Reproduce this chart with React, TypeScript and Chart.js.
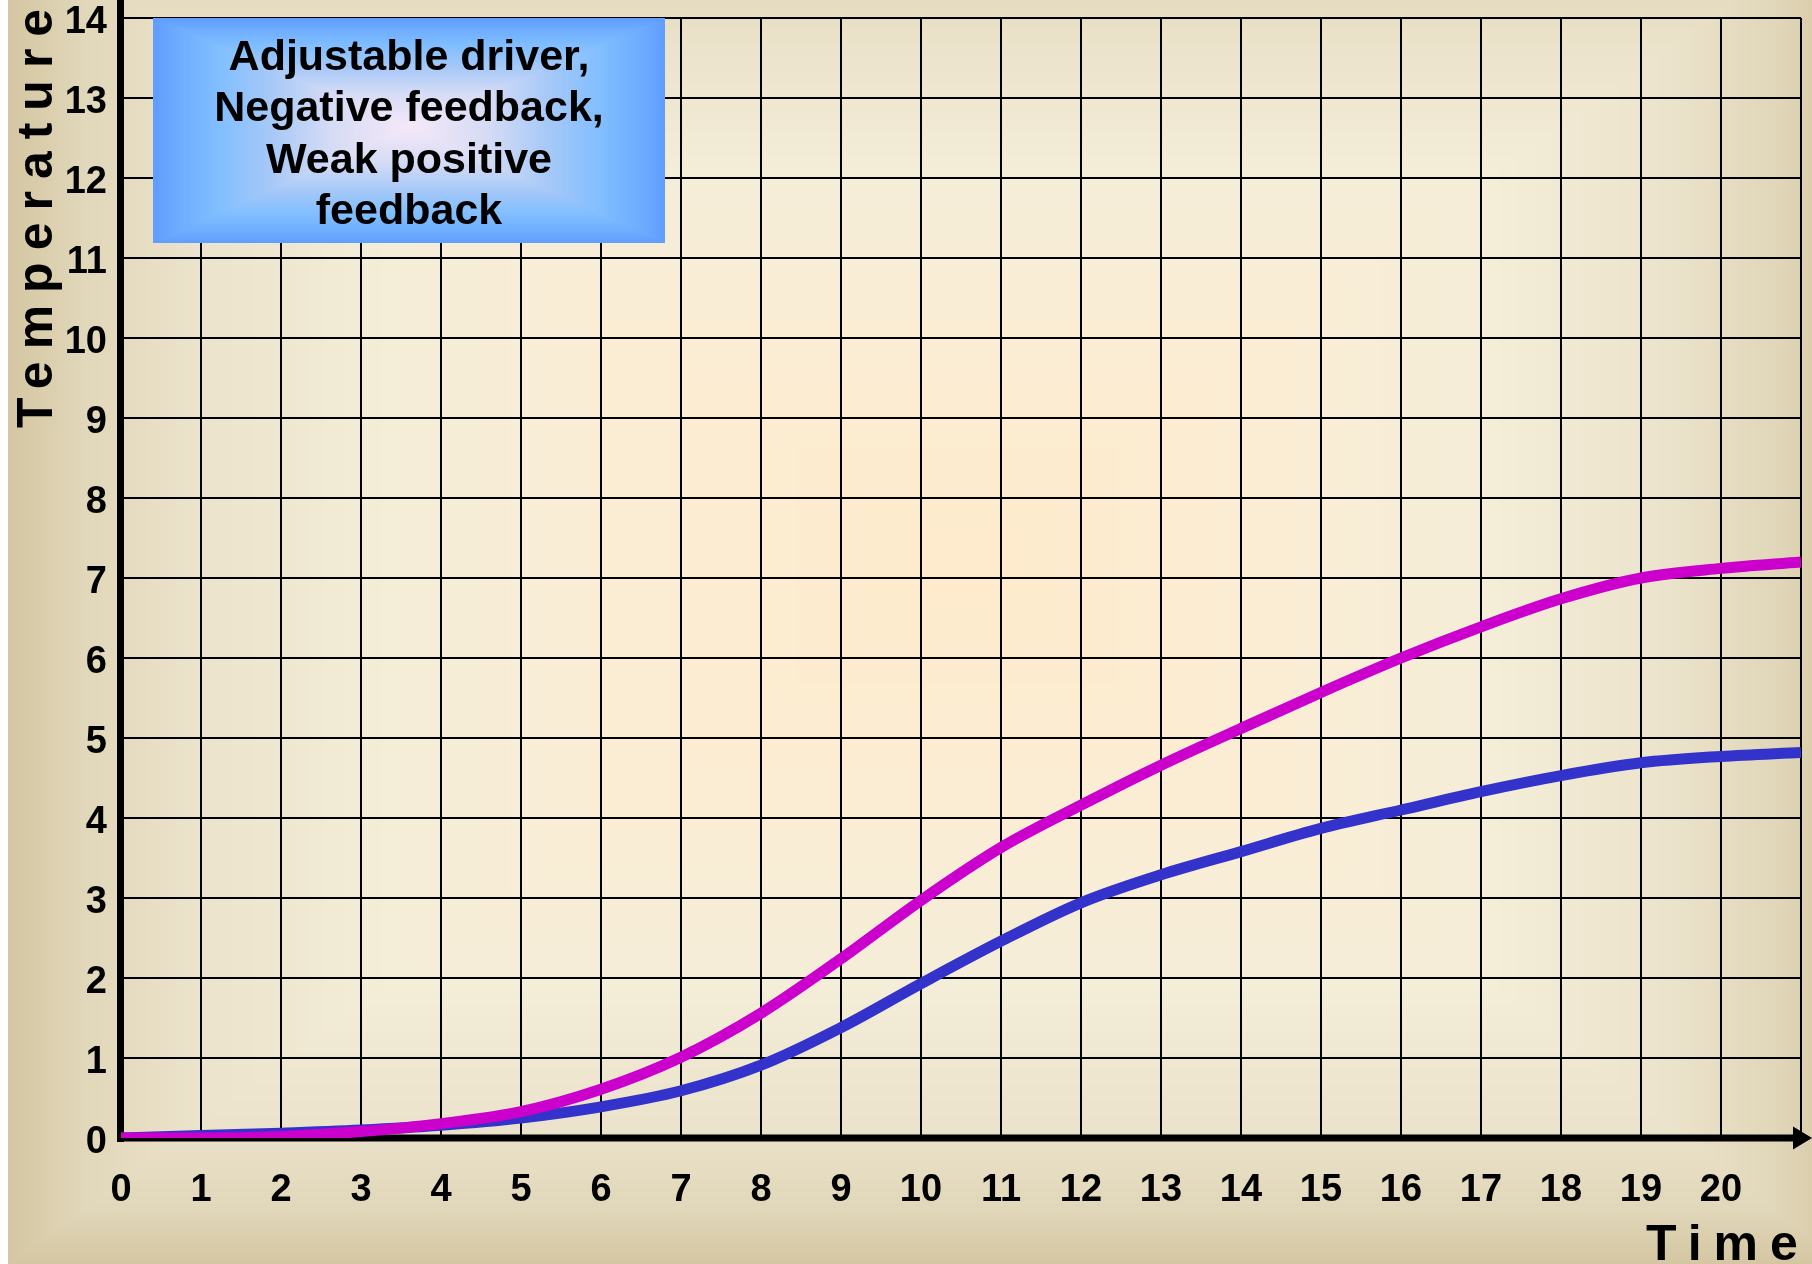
import { useEffect, useRef } from 'react';
import { Chart, registerables } from 'chart.js';

Chart.register(...registerables);

// ---- data ----
const timeSteps = [0, 1, 2, 3, 4, 5, 6, 7, 8, 9, 10, 11, 12, 13, 14, 15, 16, 17, 18, 19, 20, 21];
const xTickLabels = ['0', '1', '2', '3', '4', '5', '6', '7', '8', '9', '10', '11', '12', '13', '14', '15', '16', '17', '18', '19', '20'];
const yTickLabels = ['0', '1', '2', '3', '4', '5', '6', '7', '8', '9', '10', '11', '12', '13', '14'];
const magentaSeries = [0, 0.0, 0.02, 0.08, 0.18, 0.33, 0.61, 1.01, 1.56, 2.24, 2.97, 3.63, 4.16, 4.66, 5.12, 5.57, 6.0, 6.39, 6.74, 7.0, 7.12, 7.2];
const blueSeries = [0, 0.03, 0.06, 0.1, 0.16, 0.25, 0.39, 0.59, 0.91, 1.38, 1.93, 2.46, 2.94, 3.29, 3.58, 3.87, 4.1, 4.33, 4.53, 4.69, 4.77, 4.82];
const boxLines = ['Adjustable driver,', 'Negative feedback,', 'Weak positive', 'feedback'];
const xAxisTitle = 'Time';
const yAxisTitle = 'Temperature';

// ---- style ----
const FONT = '"Liberation Sans", Arial, sans-serif';
const bgStops: [number, number[]][] = [
  [0, [254, 234, 204]],
  [0.35, [251, 237, 212]],
  [0.6, [244, 237, 216]],
  [0.8, [235, 227, 203]],
  [0.92, [225, 215, 186]],
  [1, [212, 198, 161]],
];
const boxStops: [number, number[]][] = [
  [0, [246, 232, 248]],
  [0.3, [214, 220, 245]],
  [0.55, [165, 200, 248]],
  [0.75, [128, 190, 255]],
  [0.9, [110, 172, 255]],
  [1, [95, 157, 255]],
];

function colorAt(t: number, stops: [number, number[]][]) {
  for (let i = 1; i < stops.length; i++) {
    if (t <= stops[i][0]) {
      const [t0, c0] = stops[i - 1];
      const [t1, c1] = stops[i];
      const f = (t - t0) / (t1 - t0);
      return [c0[0] + (c1[0] - c0[0]) * f, c0[1] + (c1[1] - c0[1]) * f, c0[2] + (c1[2] - c0[2]) * f];
    }
  }
  return stops[stops.length - 1][1];
}

function rectGradient(w: number, h: number, cx: number, cy: number, axL: number, axR: number, ayT: number, ayB: number, stops: [number, number[]][]) {
  const c = document.createElement('canvas');
  c.width = Math.max(1, Math.round(w));
  c.height = Math.max(1, Math.round(h));
  const g = c.getContext('2d')!;
  const img = g.createImageData(c.width, c.height);
  for (let y = 0; y < c.height; y++) {
    const dy = y - cy;
    const ty = dy < 0 ? -dy / ayT : dy / ayB;
    for (let x = 0; x < c.width; x++) {
      const dx = x - cx;
      const tx = dx < 0 ? -dx / axL : dx / axR;
      const t = Math.min(1, Math.max(tx, ty));
      const col = colorAt(t, stops);
      const k = (y * c.width + x) * 4;
      img.data[k] = col[0];
      img.data[k + 1] = col[1];
      img.data[k + 2] = col[2];
      img.data[k + 3] = 255;
    }
  }
  g.putImageData(img, 0, 0);
  return c;
}

const decorPlugin = {
  id: 'decor',
  beforeDraw(chart: any) {
    const ctx = chart.ctx;
    const w = chart.width;
    const h = chart.height;
    if (!chart.$bg) chart.$bg = rectGradient(w, h, 955, 560, 955, 880, 640, 704, bgStops);
    ctx.save();
    ctx.drawImage(chart.$bg, 0, 0);
    ctx.restore();
  },
  beforeDatasetsDraw(chart: any) {
    const ctx = chart.ctx;
    const xs = chart.scales.x;
    const ys = chart.scales.y;
    const x0 = xs.getPixelForValue(0);
    const y0 = ys.getPixelForValue(0);
    const xEnd = chart.width;
    ctx.save();
    ctx.fillStyle = '#000';
    // y axis (extends to top edge)
    ctx.fillRect(x0 - 4, 0, 7, y0 + 4);
    // x axis with arrow
    ctx.fillRect(x0 - 4, y0 - 3.5, xEnd - 19 - (x0 - 4), 7);
    ctx.beginPath();
    ctx.moveTo(xEnd - 19, y0 - 11.5);
    ctx.lineTo(xEnd, y0);
    ctx.lineTo(xEnd - 19, y0 + 11.5);
    ctx.closePath();
    ctx.fill();
    ctx.restore();
  },
  afterDatasetsDraw(chart: any) {
    const ctx = chart.ctx;
    const xs = chart.scales.x;
    const ys = chart.scales.y;
    // annotation box
    const bx0 = Math.round(xs.getPixelForValue(0.4));
    const bx1 = Math.round(xs.getPixelForValue(6.8));
    const by0 = Math.round(ys.getPixelForValue(14));
    const by1 = Math.round(ys.getPixelForValue(11.19));
    const bw = bx1 - bx0;
    const bh = by1 - by0;
    if (!chart.$box) chart.$box = rectGradient(bw, bh, bw * 0.5, bh * 0.48, bw * 0.5, bw * 0.5, bh * 0.48, bh * 0.52, boxStops);
    ctx.save();
    ctx.drawImage(chart.$box, bx0, by0);
    ctx.fillStyle = '#000';
    ctx.font = `bold 43px ${FONT}`;
    ctx.textAlign = 'center';
    ctx.textBaseline = 'alphabetic';
    const cx = (bx0 + bx1) / 2;
    boxLines.forEach((line, i) => {
      ctx.fillText(line, cx, by0 + 52 + i * 51.3);
    });
    ctx.restore();
  },
  afterDraw(chart: any) {
    const ctx = chart.ctx;
    ctx.save();
    ctx.fillStyle = '#000';
    ctx.font = `bold 50px ${FONT}`;
    ctx.textBaseline = 'alphabetic';
    ctx.textAlign = 'left';
    try { (ctx as any).letterSpacing = '12px'; } catch (e) { /* ignore */ }
    // x title
    ctx.fillText(xAxisTitle, 1638, 1260);
    // y title, rotated
    ctx.translate(44, 428);
    ctx.rotate(-Math.PI / 2);
    ctx.fillText(yAxisTitle, 0, 0);
    ctx.restore();
  },
};

export default function App() {
  const ref = useRef<HTMLCanvasElement | null>(null);
  useEffect(() => {
    const canvas = ref.current;
    if (!canvas) return;
    const tickFont = { family: FONT, size: 38, weight: 'bold' as const };
    const chart = new Chart(canvas, {
      type: 'line',
      data: {
        datasets: [
          {
            label: 'Weak positive feedback',
            data: timeSteps.map((t, i) => ({ x: t, y: magentaSeries[i] })),
            borderColor: '#CC00CC',
            borderWidth: 11,
            pointRadius: 0,
            cubicInterpolationMode: 'monotone',
            fill: false,
          },
          {
            label: 'Negative feedback',
            data: timeSteps.map((t, i) => ({ x: t, y: blueSeries[i] })),
            borderColor: '#3333CC',
            borderWidth: 11,
            pointRadius: 0,
            cubicInterpolationMode: 'monotone',
            fill: false,
          },
        ],
      },
      options: {
        responsive: false,
        animation: false,
        events: [],
        layout: { padding: { top: 18, right: 11, left: 0, bottom: 0 } },
        plugins: { legend: { display: false }, tooltip: { enabled: false }, title: { display: false } },
        scales: {
          x: {
            type: 'linear',
            min: 0,
            max: 21,
            afterFit: (s: any) => { s.height = 126; s.paddingLeft = 0; s.paddingRight = 0; s.paddingTop = 0; s.paddingBottom = 0; },
            grid: { color: '#000', lineWidth: 2, drawTicks: false },
            border: { display: false },
            ticks: {
              stepSize: 1,
              autoSkip: false,
              maxRotation: 0,
              padding: 30,
              color: '#000',
              font: tickFont,
              callback: (v: any) => xTickLabels[v] ?? '',
            },
          },
          y: {
            type: 'linear',
            min: 0,
            max: 14,
            afterFit: (s: any) => { s.width = 113; s.paddingLeft = 0; s.paddingRight = 0; s.paddingTop = 0; s.paddingBottom = 0; },
            grid: { color: '#000', lineWidth: 2, drawTicks: false },
            border: { display: false },
            ticks: {
              stepSize: 1,
              autoSkip: false,
              padding: 14,
              labelOffset: 5,
              color: '#000',
              font: tickFont,
              callback: (v: any) => yTickLabels[v] ?? '',
            },
          },
        },
      },
      plugins: [decorPlugin],
    } as any);
    return () => chart.destroy();
  }, []);
  return (
    <div style={{ position: 'fixed', left: 8, top: 0, width: 1804, height: 1264 }}>
      <canvas ref={ref} width={1804} height={1264} style={{ display: 'block', width: 1804, height: 1264 }} />
    </div>
  );
}
